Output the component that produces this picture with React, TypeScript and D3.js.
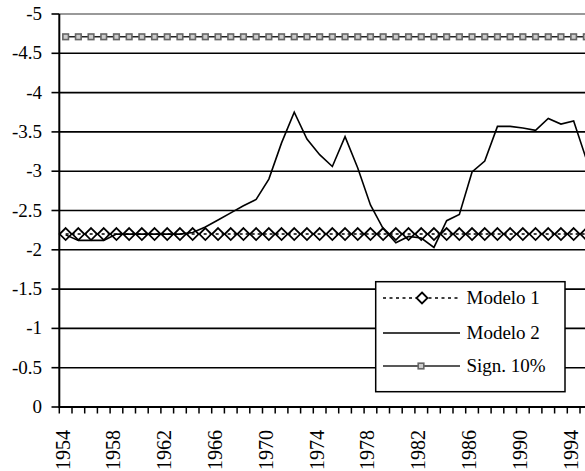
import React from "react";
import * as d3 from "d3";

const years: number[] = [];
for (let y = 1954; y <= 1995; y++) years.push(y);

const modelo1: number[] = years.map(() => -2.2);
const sign10: number[] = years.map(() => -4.71);
const modelo2: number[] = [
  -2.19, -2.12, -2.12, -2.12, -2.2, -2.2, -2.2, -2.2, -2.2, -2.2,
  -2.22, -2.29, -2.38, -2.47, -2.56, -2.64, -2.9, -3.36, -3.75, -3.41,
  -3.21, -3.06, -3.44, -3.04, -2.57, -2.27, -2.09, -2.17, -2.15, -2.03,
  -2.37, -2.45, -2.99, -3.13, -3.57, -3.57, -3.55, -3.52, -3.67, -3.6,
  -3.64, -3.15,
];
const yTicks: number[] = [0, -0.5, -1, -1.5, -2, -2.5, -3, -3.5, -4, -4.5, -5];
const xLabelYears: number[] = [1954, 1958, 1962, 1966, 1970, 1974, 1978, 1982, 1986, 1990, 1994];
const legendItems = ["Modelo 1", "Modelo 2", "Sign. 10%"];

export default function App() {
  const W = 585, H = 471;
  const left = 59.3, top = 14, bottom = 407;
  const bandW = 12.7;
  const right = left + bandW * years.length;
  const x = d3.scaleBand<number>().domain(years).range([left, right]).padding(0);
  const cx = (yr: number) => (x(yr) as number) + x.bandwidth() / 2;
  const y = d3.scaleLinear().domain([-5, 0]).range([top, bottom]);
  const ff = "Liberation Serif";

  const line = d3.line<number>().x((_, i) => cx(years[i])).y((d) => y(d));
  const diamond = (px: number, py: number, r = 6) =>
    `M${px},${py - r}L${px + r},${py}L${px},${py + r}L${px - r},${py}Z`;

  const lx0 = 375.7, ly0 = 281.7, lx1 = 565, ly1 = 391.7;
  const legY = [298, 333, 366];
  return (
    <svg width={W} height={H} style={{ position: "absolute", left: 0, top: 0, background: "#fff" }}>
      <defs>
        <clipPath id="cp">
          <rect x={0} y={0} width={W} height={H} />
        </clipPath>
      </defs>
      {yTicks.map((t) => (
        <line key={t} x1={left} x2={W} y1={y(t)} y2={y(t)} stroke={t === -5 ? "#999" : "#000"} strokeWidth={t === -5 ? 2 : 1.6} />
      ))}
      {yTicks.map((t) => (
        <g key={"yt" + t}>
          <line x1={51.5} x2={left} y1={y(t)} y2={y(t)} stroke="#000" strokeWidth={1.6} />
          <text x={42} y={y(t) + 6} textAnchor="end" fontFamily={ff} fontSize={19}>
            {t === 0 ? "0" : String(t)}
          </text>
        </g>
      ))}
      <line x1={left} x2={W} y1={bottom} y2={bottom} stroke="#000" strokeWidth={1.8} />
      {years.map((yr) => (
        <line key={"xt" + yr} x1={x(yr) as number} x2={x(yr) as number} y1={bottom} y2={bottom + 6.5} stroke="#000" strokeWidth={1.5} />
      ))}
      <line x1={right} x2={right} y1={bottom} y2={bottom + 6.5} stroke="#000" strokeWidth={1.5} />
      {xLabelYears.map((yr) => (
        <text key={"xl" + yr} transform={`translate(${cx(yr) + 4},430) rotate(-90)`} textAnchor="end" fontFamily={ff} fontSize={20}>
          {yr}
        </text>
      ))}
      <line x1={left} x2={left} y1={top} y2={bottom + 1} stroke="#000" strokeWidth={2} />
      <g clipPath="url(#cp)">
        <path d={line(sign10) || ""} fill="none" stroke="#222" strokeWidth={1.5} />
        {sign10.map((v, i) => (
          <rect key={"s" + i} x={cx(years[i]) - 2.8} y={y(v) - 2.8} width={5.6} height={5.6} fill="#ccc" stroke="#666" strokeWidth={1.6} />
        ))}
        <path d={line(modelo1) || ""} fill="none" stroke="#000" strokeWidth={1.5} strokeDasharray="3,3" />
        <path d={line(modelo2) || ""} fill="none" stroke="#000" strokeWidth={1.6} />
        {modelo1.map((v, i) => (
          <path key={"d" + i} d={diamond(cx(years[i]), y(v))} fill="none" stroke="#000" strokeWidth={1.8} />
        ))}
      </g>
      <rect x={lx0} y={ly0} width={lx1 - lx0} height={ly1 - ly0} fill="#fff" stroke="#000" strokeWidth={1.5} />
      <line x1={383} x2={460} y1={legY[0]} y2={legY[0]} stroke="#000" strokeWidth={1.5} strokeDasharray="3,3.5" />
      <path d={diamond(422, legY[0], 5.5)} fill="#fff" stroke="#000" strokeWidth={1.8} />
      <line x1={383} x2={460} y1={legY[1]} y2={legY[1]} stroke="#000" strokeWidth={1.6} />
      <line x1={383} x2={460} y1={legY[2]} y2={legY[2]} stroke="#222" strokeWidth={1.5} />
      <rect x={421 - 2.8} y={legY[2] - 2.8} width={5.6} height={5.6} fill="#ccc" stroke="#666" strokeWidth={1.6} />
      {legendItems.map((t, i) => (
        <text key={t} x={466.5} y={legY[i] + 6} fontFamily={ff} fontSize={19}>
          {t}
        </text>
      ))}
    </svg>
  );
}
